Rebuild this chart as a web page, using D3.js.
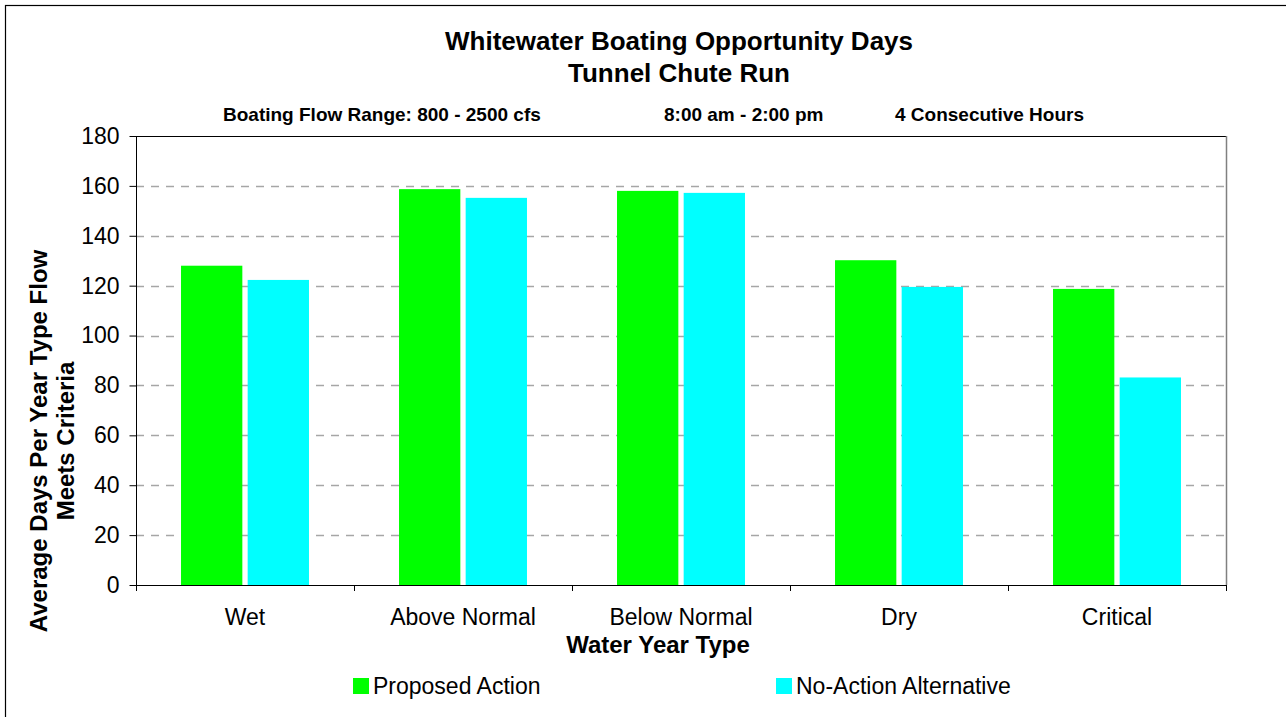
<!DOCTYPE html>
<html>
<head>
<meta charset="utf-8">
<script src="https://cdn.jsdelivr.net/npm/d3@7"></script>
<style>
body{margin:0;background:#fff;}
svg{display:block;font-family:"Liberation Sans",Arial,sans-serif;}
</style>
</head>
<body>
<div id="box"></div>
<script>
var categories=["Wet","Above Normal","Below Normal","Dry","Critical"];
var seriesNames=["Proposed Action","No-Action Alternative"];
var proposed=[128,158.7,158,130.2,118.7];
var noAction=[122.3,155.2,157.2,119.5,83.2];
var yTicks=[0,20,40,60,80,100,120,140,160,180];
var colors=["#00ff00","#00ffff"];

var W=1286,H=717;
var margin={top:136,left:136,right:60,bottom:132};
var pw=1226-margin.left, ph=585-margin.top;

var svg=d3.select("#box").append("svg").attr("width",W).attr("height",H);
// outer chart border (right/bottom fall outside the picture)
svg.append("rect").attr("x",5.5).attr("y",5.5).attr("width",W).attr("height",H)
   .attr("fill","none").attr("stroke","#000").attr("stroke-width",1.2);

var yscale=d3.scaleLinear().domain([0,180]).range([ph,0]);
var xscale=d3.scaleBand().domain(categories).range([0,pw]).paddingInner(0.413).paddingOuter(0.2065);
var sub=d3.scaleBand().domain(seriesNames).range([0,xscale.bandwidth()]).paddingInner(0.08);
var step=xscale.step();

var g=svg.append("g").attr("transform","translate("+margin.left+","+margin.top+")");

// gridlines
g.append("g").selectAll("line").data(yTicks.filter(function(d){return d>0&&d<180;}))
 .enter().append("line")
 .attr("x1",0).attr("x2",pw)
 .attr("y1",function(d){return Math.round(yscale(d))+0.5;})
 .attr("y2",function(d){return Math.round(yscale(d))+0.5;})
 .attr("stroke","#a6a6a6").attr("stroke-width",1.5).attr("stroke-dasharray","8,7");

// plot box top/right
g.append("line").attr("x1",0).attr("x2",pw).attr("y1",0.5).attr("y2",0.5).attr("stroke","#000");
g.append("line").attr("x1",pw+0.5).attr("x2",pw+0.5).attr("y1",0).attr("y2",ph).attr("stroke","#808080").attr("stroke-width",1.5);

// bars
var rows=categories.map(function(c,i){return {cat:c,vals:[proposed[i],noAction[i]]};});
var grp=g.selectAll(".grp").data(rows).enter().append("g")
 .attr("transform",function(d){return "translate("+xscale(d.cat)+",0)";});
grp.selectAll("rect").data(function(d){return d.vals.map(function(v,j){return {v:v,s:seriesNames[j],j:j};});})
 .enter().append("rect")
 .attr("x",function(d){return sub(d.s);})
 .attr("width",sub.bandwidth())
 .attr("y",function(d){return yscale(d.v);})
 .attr("height",function(d){return ph-yscale(d.v);})
 .attr("fill",function(d){return colors[d.j];});

// y axis
var yAxis=d3.axisLeft(yscale).tickValues(yTicks).tickSize(7).tickPadding(10);
var ya=g.append("g").attr("transform","translate(0.5,0)").call(yAxis);
ya.select(".domain").attr("stroke","#000").attr("d","M0,0V"+ph);
ya.selectAll("text").style("font-size","23px").attr("fill","#000");

// x axis with ticks at category boundaries
g.append("line").attr("x1",0).attr("x2",pw+1).attr("y1",ph+0.5).attr("y2",ph+0.5).attr("stroke","#000");
g.append("g").selectAll("line").data(d3.range(categories.length+1)).enter().append("line")
 .attr("x1",function(i){return Math.round(i*step)+0.5;})
 .attr("x2",function(i){return Math.round(i*step)+0.5;})
 .attr("y1",ph).attr("y2",ph+6).attr("stroke","#000");
g.append("g").selectAll("text").data(categories).enter().append("text")
 .attr("x",function(d){return xscale(d)+xscale.bandwidth()/2;})
 .attr("y",ph+40).attr("text-anchor","middle").style("font-size","23px").text(function(d){return d;});

// titles
svg.append("text").attr("x",679).attr("y",50).attr("text-anchor","middle")
 .style("font-size","26px").style("font-weight","bold").text("Whitewater Boating Opportunity Days");
svg.append("text").attr("x",679).attr("y",82).attr("text-anchor","middle")
 .style("font-size","26px").style("font-weight","bold").text("Tunnel Chute Run");
var subs=[["Boating Flow Range: 800 - 2500 cfs",223],["8:00 am - 2:00 pm",664],["4 Consecutive Hours",895]];
svg.append("g").selectAll("text").data(subs).enter().append("text")
 .attr("x",function(d){return d[1];}).attr("y",121)
 .style("font-size","19px").style("font-weight","bold").text(function(d){return d[0];});

svg.append("text").attr("x",658).attr("y",653).attr("text-anchor","middle")
 .style("font-size","24px").style("font-weight","bold").text("Water Year Type");

var yt=svg.append("text").attr("transform","translate(47,441) rotate(-90)")
 .attr("text-anchor","middle").style("font-size","24px").style("font-weight","bold");
yt.append("tspan").attr("x",0).attr("dy",0).text("Average Days Per Year Type Flow");
yt.append("tspan").attr("x",0).attr("dy",27).text("Meets Criteria");

// legend
var lx=[353,776];
var lg=svg.append("g").selectAll("g").data(seriesNames).enter().append("g")
 .attr("transform",function(d,i){return "translate("+lx[i]+",678)";});
lg.append("rect").attr("width",16).attr("height",16).attr("fill",function(d,i){return colors[i];});
lg.append("text").attr("x",20).attr("y",16).style("font-size","23px").text(function(d){return d;});
</script>
</body>
</html>
